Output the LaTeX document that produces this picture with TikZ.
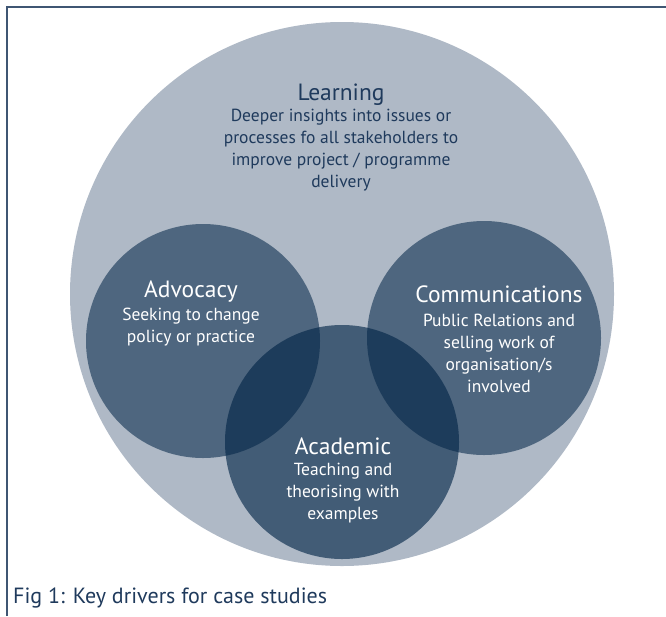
\documentclass[tikz,border=0pt]{standalone}
\usepackage{fontspec}
\setmainfont{PT Sans}
\usetikzlibrary{positioning}

\definecolor{framecol}{HTML}{3F5673}
\definecolor{outercol}{HTML}{AFB9C6}
\definecolor{drivercol}{HTML}{002345}
\definecolor{inkcol}{HTML}{1F3A5C}

\begin{document}
\begin{tikzpicture}[x=1pt, y=-1pt,
    driver/.style={circle, fill=drivercol, fill opacity=0.55, inner sep=0pt, minimum size=234pt},
    head/.style={inner sep=0pt, font=\fontsize{23.5}{26}\selectfont},
    body/.style={inner sep=0pt, align=center, font=\fontsize{17.5}{22}\selectfont}]
      \useasboundingbox (0,0) rectangle (666,616);

      % open frame, top and left only
      \draw[framecol, line width=2pt] (7,616) -- (7,7) -- (666,7);

      % the circles
      \node[circle, fill=outercol, inner sep=0pt, minimum size=544pt] (learning) at (342,294) {};
      \node[driver] (advocacy) at (203,341) {};
      \node[driver] (communications) at (484,338) {};
      \node[driver, fill opacity=0.62] (academic) at (342,442) {};

      % texts
      \node[head, text=inkcol] (learninghead) at (341,95) {Learning};
      \node[body, text=inkcol] (learningbody) at (341,150) {Deeper insights into issues or\\processes fo all stakeholders to\\improve project / programme\\delivery};

      \node[head, text=white] (advocacyhead) at (191,292) {Advocacy};
      \node[body, text=white] (advocacybody) at (191,327.5) {Seeking to change\\policy or practice};

      \node[head, text=white] (commshead) at (499,294) {Communications};
      \node[body, text=white] (commsbody) at (499,353) {Public Relations and\\selling work of\\organisation/s\\involved};

      \node[head, text=white] (academichead) at (343,446) {Academic};
      \node[body, text=white] (academicbody) at (343,493.5) {Teaching and\\theorising with\\examples};

      \node[anchor=west, inner sep=0pt, text=inkcol, font=\fontsize{22}{26}\selectfont] (caption) at (13,598) {Fig 1: Key drivers for case studies};
\end{tikzpicture}
\end{document}
